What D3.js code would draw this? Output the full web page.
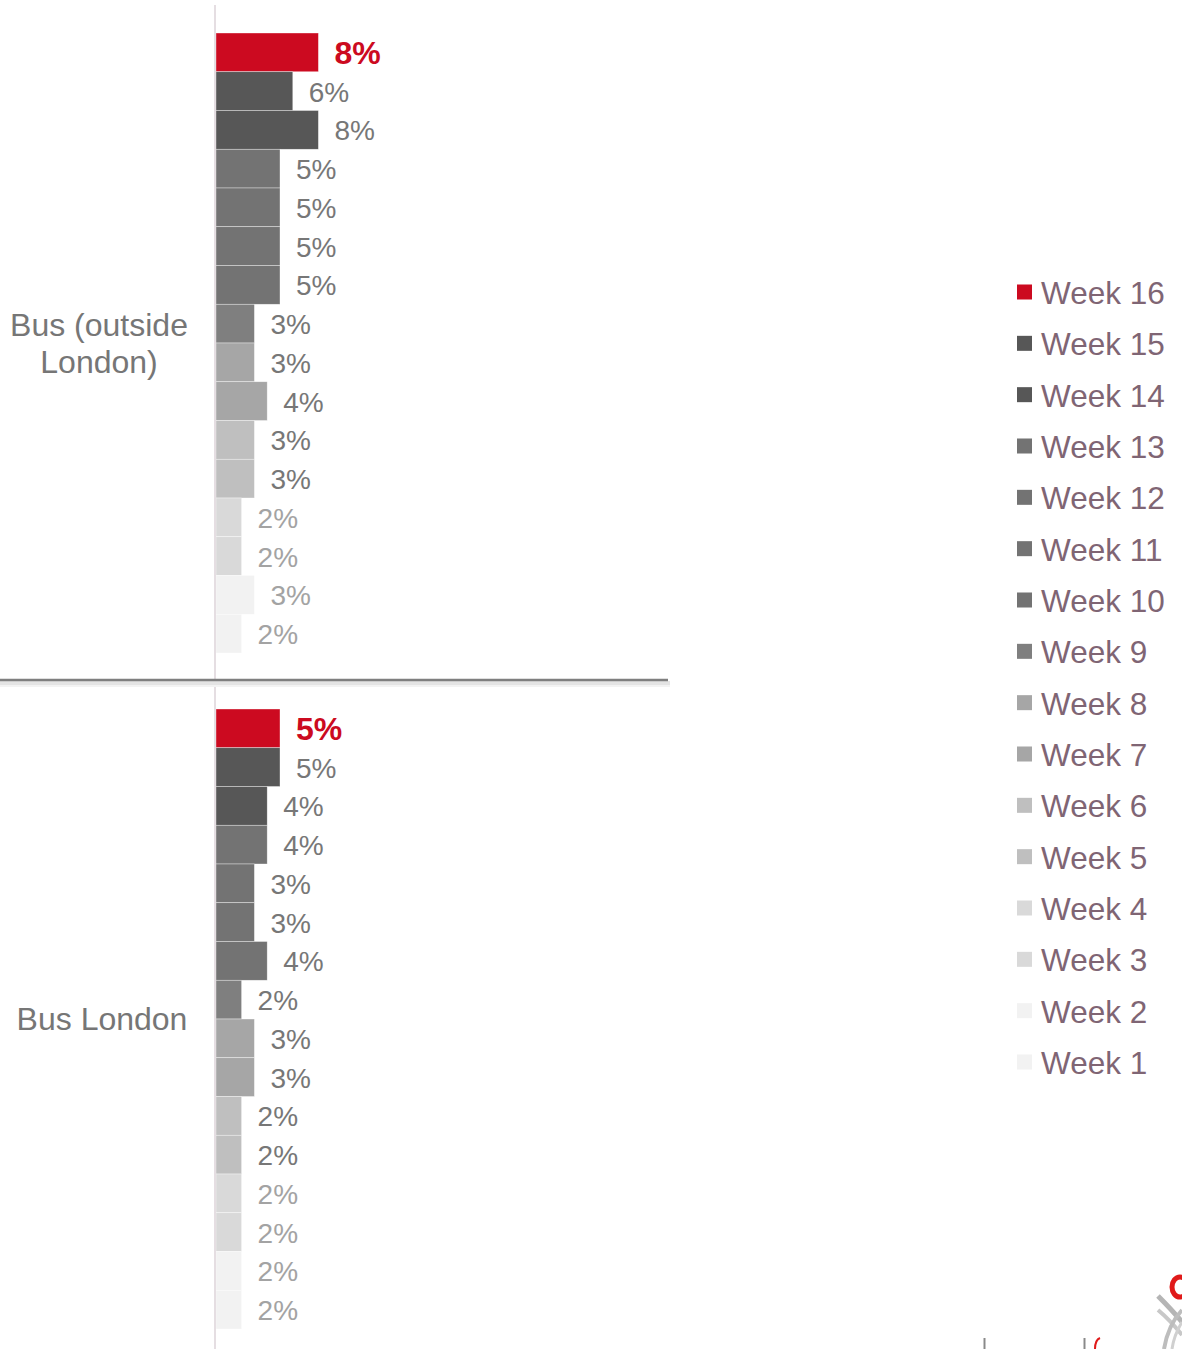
<!DOCTYPE html>
<html><head><meta charset="utf-8">
<script src="https://cdn.jsdelivr.net/npm/d3@7"></script>
<style>html,body{margin:0;padding:0;background:#fff;}svg{display:block;}</style>
</head><body>
<script>
const weeks = ["Week 16","Week 15","Week 14","Week 13","Week 12","Week 11","Week 10","Week 9","Week 8","Week 7","Week 6","Week 5","Week 4","Week 3","Week 2","Week 1"];
const categories = ["Bus (outside London)", "Bus London"];
const busOutsideLondon = [8,6,8,5,5,5,5,3,3,4,3,3,2,2,3,2];
const busLondon = [5,5,4,4,3,3,4,2,3,3,2,2,2,2,2,2];
const weekColors = ["#cc0a20","#575757","#575757","#737373","#737373","#737373","#737373","#7f7f7f","#a6a6a6","#a6a6a6","#bfbfbf","#bfbfbf","#d9d9d9","#d9d9d9","#f2f2f2","#f2f2f2"];
const labelColors = ["#cc0a20","#777777","#777777","#777777","#777777","#777777","#777777","#777777","#777777","#777777","#777777","#777777","#a3a3a3","#a3a3a3","#a3a3a3","#a3a3a3"];

const W = 1182, H = 1349;
const svg = d3.select("body").append("svg").attr("width", W).attr("height", H)
  .style("font-family", "'Liberation Sans', Arial, sans-serif");

const x = d3.scaleLinear().domain([0, 35]).range([216, 664]);
const groups = [
  {name: categories[0], values: busOutsideLondon, y0: 33, y1: 653, lines: ["Bus (outside", "London)"], cx: 99},
  {name: categories[1], values: busLondon, y0: 709, y1: 1329, lines: ["Bus London"], cx: 102}
];

groups.forEach(g => {
  const y = d3.scaleBand().domain(weeks).range([g.y0, g.y1]).padding(0);
  const gg = svg.append("g");
  gg.selectAll("rect").data(weeks).join("rect")
    .attr("x", x(0)).attr("y", d => y(d))
    .attr("width", (d,i) => x(g.values[i]) - x(0))
    .attr("height", y.bandwidth())
    .attr("fill", (d,i) => weekColors[i])
    .attr("stroke", "#ffffff").attr("stroke-width", 0.6).attr("stroke-opacity", 0.6);
  gg.selectAll("text.val").data(weeks).join("text").attr("class","val")
    .attr("x", (d,i) => x(g.values[i]) + 16)
    .attr("y", d => y(d) + y.bandwidth()/2 + 1)
    .attr("dominant-baseline", "central")
    .attr("font-size", (d,i) => i === 0 ? 32 : 28)
    .attr("font-weight", (d,i) => i === 0 ? "bold" : "normal")
    .attr("fill", (d,i) => labelColors[i])
    .text((d,i) => g.values[i] + "%");
  const cy = (g.y0 + g.y1)/2;
  const lh = 37;
  g.lines.forEach((t, k) => {
    svg.append("text").attr("x", g.cx)
      .attr("y", cy + (k - (g.lines.length-1)/2) * lh)
      .attr("dominant-baseline", "central").attr("text-anchor", "middle")
      .attr("font-size", 32).attr("fill", "#767676").text(t);
  });
});

// vertical axis line
svg.append("line").attr("x1", 215).attr("x2", 215).attr("y1", 5).attr("y2", H)
  .attr("stroke", "#ddd3d8").attr("stroke-width", 1.5);

// separator with shadow
svg.append("rect").attr("x", 0).attr("y", 681).attr("width", 670).attr("height", 4).attr("fill", "#e4e4e4");
svg.append("rect").attr("x", 0).attr("y", 685).attr("width", 670).attr("height", 2).attr("fill", "#f3f3f3");
svg.append("line").attr("x1", 0).attr("x2", 668).attr("y1", 680).attr("y2", 680)
  .attr("stroke", "#7f7f7f").attr("stroke-width", 2.5);

// legend
const leg = svg.append("g");
const ly = d3.scaleLinear().domain([0, 15]).range([292, 1062]);
weeks.forEach((w, i) => {
  leg.append("rect").attr("x", 1017).attr("y", ly(i) - 7.5).attr("width", 15).attr("height", 15).attr("fill", weekColors[i]);
  leg.append("text").attr("x", 1041).attr("y", ly(i) + 1).attr("dominant-baseline", "central")
    .attr("font-size", 31.5).attr("fill", "#7f6574").text(w);
});

// partial logo in bottom-right corner
const logo = svg.append("g");
logo.append("ellipse").attr("cx", 1180).attr("cy", 1287).attr("rx", 8).attr("ry", 10)
  .attr("fill", "none").attr("stroke", "#e01a1a").attr("stroke-width", 5);
logo.append("path").attr("d", "M1158,1296 Q1172,1310 1182,1322").attr("fill","none").attr("stroke","#b5b5b5").attr("stroke-width",5);
logo.append("path").attr("d", "M1158,1310 Q1170,1320 1182,1335").attr("fill","none").attr("stroke","#c8c8c8").attr("stroke-width",4);
logo.append("path").attr("d", "M1182,1310 Q1168,1325 1164,1349").attr("fill","none").attr("stroke","#bdbdbd").attr("stroke-width",4);
logo.append("path").attr("d", "M1182,1322 Q1174,1335 1172,1349").attr("fill","none").attr("stroke","#d0d0d0").attr("stroke-width",3);
logo.append("line").attr("x1",984.5).attr("x2",984.5).attr("y1",1338).attr("y2",1349).attr("stroke","#8a8a8a").attr("stroke-width",2);
logo.append("line").attr("x1",1084.5).attr("x2",1084.5).attr("y1",1338).attr("y2",1349).attr("stroke","#8a8a8a").attr("stroke-width",2);
logo.append("path").attr("d","M1100,1338 Q1095,1340 1095,1349").attr("fill","none").attr("stroke","#e01a1a").attr("stroke-width",2);
</script>
</body></html>
